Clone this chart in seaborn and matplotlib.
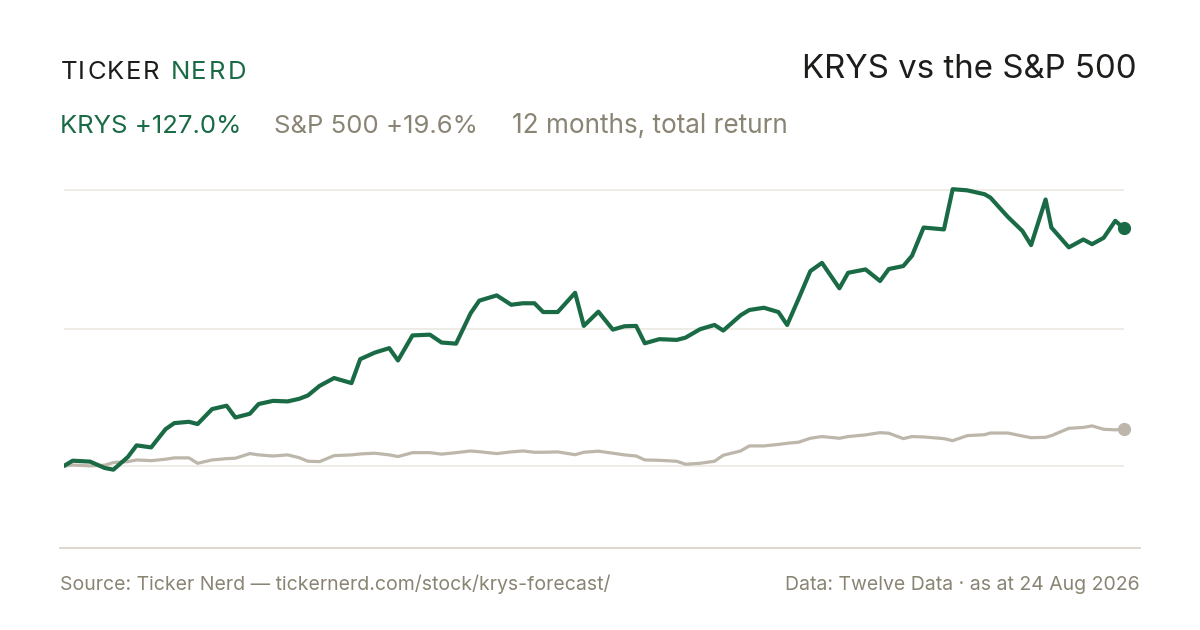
import pandas as pd
import matplotlib.pyplot as plt
import seaborn as sns
from matplotlib.lines import Line2D

# ==========================
# DATA
# ==========================

start_date = "2025-08-24"

days = [
    0, 3, 9, 14, 17, 22, 25, 30, 35, 38, 43, 46, 51, 56, 59, 64, 67, 72, 77, 81,
    84, 88, 93, 99, 102, 107, 112, 115, 120, 126, 130, 135, 140, 143, 149, 154,
    158, 162, 165, 170, 176, 179, 184, 189, 193, 197, 200, 205, 211, 214, 219,
    224, 227, 233, 236, 241, 246, 249, 253, 257, 261, 267, 270, 276, 281, 284,
    289, 292, 296, 303, 306, 311, 317, 319, 325, 330, 333, 338, 340, 346, 351,
    354, 358, 362, 365
]

krys_return = [
    0.0, 2.8, 2.3, -1.1, -2.0, 4.8, 11.0, 9.9, 19.7, 22.9, 23.6, 22.4, 30.4,
    32.2, 25.9, 27.9, 33.1, 34.8, 34.5, 35.9, 37.7, 42.8, 47.0, 44.3, 57.1,
    60.6, 63.0, 56.4, 69.8, 70.2, 66.0, 65.4, 81.6, 88.4, 91.2, 86.2, 87.0,
    87.0, 82.3, 82.3, 92.6, 74.9, 82.5, 72.9, 74.7, 74.9, 65.6, 67.8, 67.4,
    68.6, 73.1, 75.4, 72.4, 80.6, 83.4, 84.6, 82.3, 75.4, 89.6, 104.2, 108.6,
    95.0, 103.3, 105.1, 98.9, 105.3, 106.9, 112.4, 127.5, 126.5, 148.0, 147.4,
    145.3, 143.5, 133.2, 125.7, 118.1, 142.5, 127.5, 116.9, 121.1, 118.6,
    122.0, 131.1, 127.0
]

spx_return = [
    0.0, 0.5, 0.0, 0.4, 1.8, 2.3, 3.2, 2.8, 3.6, 4.3, 4.3, 1.4, 3.2, 3.9, 4.1,
    6.6, 5.9, 5.3, 5.9, 4.4, 2.5, 2.3, 5.5, 5.9, 6.4, 6.8, 5.9, 5.0, 7.1, 7.1,
    6.3, 7.1, 8.0, 7.6, 6.6, 7.5, 8.0, 7.3, 7.3, 7.5, 6.0, 7.3, 7.9, 6.8, 5.9,
    5.3, 3.2, 3.0, 2.5, 0.9, 1.4, 2.5, 5.7, 8.0, 10.7, 10.7, 11.5, 12.1, 12.7,
    14.8, 15.7, 14.8, 15.7, 16.6, 17.8, 17.5, 14.6, 15.7, 15.5, 14.6, 13.5,
    16.2, 16.7, 17.6, 17.6, 16.0, 15.1, 15.3, 16.2, 20.1, 20.6, 21.4, 19.6,
    19.3, 19.6
]

grid_values = [0, 73, 147.6]

# ==========================
# COLOURS
# ==========================

green = "#1a6b45"
sand = "#bdb6ab"
muted = "#8a8474"
ink = "#1d1d1b"

dates = pd.Timestamp(start_date) + pd.to_timedelta(days, unit="D")
df = pd.DataFrame({"date": dates, "KRYS": krys_return, "S&P 500": spx_return})

# ==========================
# FIGURE
# ==========================

sns.set_theme(style="white")
plt.rcParams["font.family"] = ["Inter", "DejaVu Sans"]

fig = plt.figure(figsize=(12, 6.3), dpi=100)
fig.patch.set_facecolor("white")

W, H = 1200, 630
ax = fig.add_axes([64 / W, (H - 548) / H, (1124 - 64) / W, (548 - 175) / H])

sns.lineplot(data=df, x="date", y="S&P 500", ax=ax, color=sand, linewidth=2.3)
sns.lineplot(data=df, x="date", y="KRYS", ax=ax, color=green, linewidth=3.0)

# end dots
ax.plot(df["date"].iloc[-1], df["S&P 500"].iloc[-1], "o", color=sand,
        markersize=8.5, clip_on=False, zorder=5)
ax.plot(df["date"].iloc[-1], df["KRYS"].iloc[-1], "o", color=green,
        markersize=8.5, clip_on=False, zorder=5)

ax.set_xlim(df["date"].iloc[0], df["date"].iloc[-1])
ax.set_ylim(-43.9, 155.6)
ax.set_yticks(grid_values)
ax.grid(axis="y", color="#ece9e3", linewidth=1.2)
ax.grid(axis="x", visible=False)
ax.tick_params(left=False, bottom=False, labelleft=False, labelbottom=False)
ax.set_xlabel("")
ax.set_ylabel("")
for s in ax.spines.values():
    s.set_visible(False)
ax.set_axisbelow(True)

# bottom rule
fig.add_artist(Line2D([60 / W, 1140 / W], [(H - 548) / H] * 2,
                      color="#dcd8cf", linewidth=1.5))

# ==========================
# TEXT
# ==========================

def fy(py):
    return (H - py) / H

# logo, letter spaced
x = 60.5
for ch in "TICKER":
    fig.text(x / W, fy(79.3), ch, fontsize=18.5, color=ink, va="baseline")
    x += {"T": 17.5, "I": 9.5, "C": 19.5, "K": 18.5, "E": 17, "R": 0}[ch]
x = 170.5
for ch in "NERD":
    fig.text(x / W, fy(79.3), ch, fontsize=18.5, color=green, va="baseline")
    x += {"N": 20.5, "E": 17.5, "R": 19.5, "D": 0}[ch]

fig.text(1137 / W, fy(78.3), "KRYS vs the S&P 500", fontsize=23.8, color=ink,
         ha="right", va="baseline")

fig.text(60.5 / W, fy(132.7), "KRYS +127.0%", fontsize=18.5, color=green, va="baseline")
fig.text(274 / W, fy(132.7), "S&P 500 +19.6%", fontsize=18.5, color=muted, va="baseline")
fig.text(511.5 / W, fy(132.7), "12 months, total return", fontsize=18.8, color=muted,
         va="baseline")

fig.text(60 / W, fy(590), "Source: Ticker Nerd \u2014 tickernerd.com/stock/krys-forecast/",
         fontsize=14, color=muted, va="baseline")
fig.text(1140 / W, fy(590), "Data: Twelve Data \u00b7 as at 24 Aug 2026",
         fontsize=14, color=muted, ha="right", va="baseline")

plt.savefig("out.png", dpi=100, facecolor="white")
